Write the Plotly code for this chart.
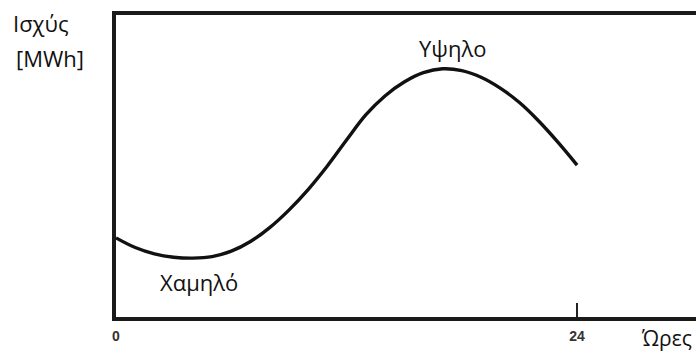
import plotly.graph_objects as go

# Daily load curve: hour of day vs. power demand (arbitrary units 0-100)
hours = list(range(0, 25))
power = [26.2, 23.0, 20.9, 19.8, 19.5, 20.0, 21.8, 25.0, 29.6, 35.4,
         42.2, 50.0, 58.6, 66.9, 73.2, 77.8, 80.9, 82.2, 81.6, 79.4,
         75.8, 71.0, 64.9, 57.9, 50.3]

tick_vals = [0, 24]
tick_text = ["0", "24"]

fig = go.Figure()
fig.add_trace(go.Scatter(
    x=hours, y=power, mode="lines",
    line=dict(color="#111111", width=3.4, shape="spline", smoothing=1.0),
    hoverinfo="skip", showlegend=False,
))

txt_font = dict(family="Open Sans, Liberation Sans, sans-serif", size=22, color="#111111")
axis_name_font = dict(family="Open Sans, Liberation Sans, sans-serif", size=21, color="#111111")

annotations = [
    dict(text="Υψηλο", x=17.5, y=89.0, xref="x", yref="y", showarrow=False,
         font=txt_font, xanchor="center", yanchor="middle"),
    dict(text="Χαμηλό", x=4.3, y=11.5, xref="x", yref="y", showarrow=False,
         font=txt_font, xanchor="center", yanchor="middle"),
    dict(text="Ισχύς", x=-0.129, y=0.975, xref="paper", yref="paper", showarrow=False,
         font=txt_font, xanchor="center", yanchor="middle"),
    dict(text="[MWh]", x=-0.113, y=0.857, xref="paper", yref="paper", showarrow=False,
         font=txt_font, xanchor="center", yanchor="middle"),
    dict(text="Ώρες", x=0.995, y=-0.068, xref="paper", yref="paper", showarrow=False,
         font=axis_name_font, xanchor="right", yanchor="middle", borderpad=0),
]

fig.update_layout(
    width=696, height=351,
    margin=dict(l=116, r=0, t=15, b=34),
    paper_bgcolor="white", plot_bgcolor="white",
    annotations=annotations,
    xaxis=dict(
        range=[0, 30.19], showgrid=False, zeroline=False,
        showline=True, linecolor="#1a1a1a", linewidth=3.5, mirror=True,
        tickvals=tick_vals, ticktext=tick_text,
        ticks="inside", ticklen=14, tickwidth=1.5, tickcolor="#222222",
        ticklabelstandoff=3,
        tickfont=dict(family="Liberation Sans, Arial, sans-serif", size=14,
                      color="#333333", weight="bold"),
        fixedrange=True,
    ),
    yaxis=dict(
        range=[0, 100], showgrid=False, zeroline=False,
        showline=True, linecolor="#1a1a1a", linewidth=3.5,
        showticklabels=False, ticks="",
        fixedrange=True,
    ),
)

fig.write_html("out.html")
